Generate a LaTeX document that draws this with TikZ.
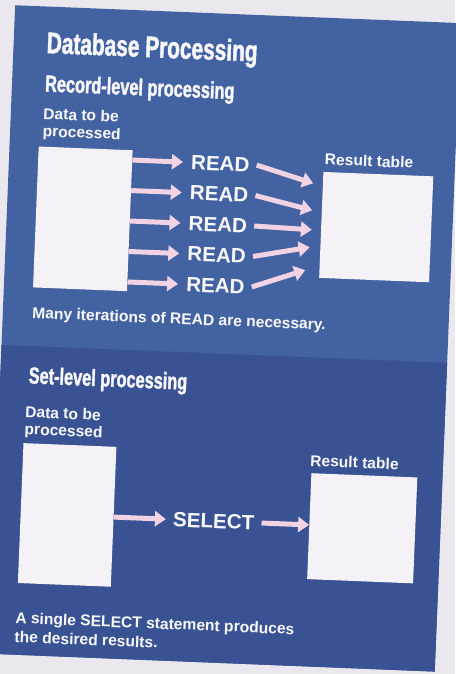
\documentclass[tikz,border=0pt]{standalone}
\usepackage{fontspec}
\setmainfont{Liberation Sans}
\newfontfamily\condfont[FakeStretch=0.70,FakeBold=1.5]{Liberation Sans Bold}
\newfontfamily\medfont{Liberation Sans Bold}
\usetikzlibrary{arrows.meta,calc}
\definecolor{bgpage}{HTML}{EAE8EE}
\definecolor{panelA}{HTML}{4262A2}
\definecolor{panelB}{HTML}{385293}
\definecolor{pinkarrow}{HTML}{F1D3E3}
\definecolor{boxwhite}{HTML}{F4F2F6}
\definecolor{txtwhite}{HTML}{F8F8FB}
\tikzset{
  heading/.style={font=\condfont\fontsize{29.8}{34}\selectfont, text=txtwhite, inner sep=0pt, anchor=base west},
  subhead/.style={font=\condfont\fontsize{23.3}{27}\selectfont, text=txtwhite, inner sep=0pt, anchor=base west},
  lbl/.style={font=\medfont\fontsize{15.6}{18}\selectfont, text=txtwhite, inner sep=0pt, anchor=base west},
  opname/.style={font=\medfont\fontsize{20.6}{24}\selectfont, text=txtwhite, inner sep=0pt, anchor=west},
  tablebox/.style={fill=boxwhite, draw=none, inner sep=0pt, anchor=north west},
  arr/.style={draw=pinkarrow, line width=5pt, -{Triangle[length=11pt,width=15pt]}},
}
\begin{document}
\begin{tikzpicture}[x=1pt,y=-1pt]
\useasboundingbox (0,0) rectangle (455,674);
\fill[bgpage] (0,0) rectangle (455,674);
\begin{scope}[rotate around={-2.3:(227,337)}, transform shape]
  % panel
  \fill[panelA] (2,14) rectangle (448,663);
  \fill[panelB] (2,354) rectangle (448,663);
  % upper section
  \node[heading] (title) at (35,60.5) {Database Processing};
  \node[subhead] (sub1) at (35,99) {Record-level processing};
  \node[lbl] (d1a) at (34.4,126.6) {Data to be};
  \node[lbl] (d1b) at (34.4,144) {processed};
  \node[tablebox, minimum width=94pt, minimum height=141pt] (box1) at (31,154) {};
  \node[lbl] (res1) at (317.5,161) {Result table};
  \node[tablebox, minimum width=110pt, minimum height=106pt] (box2) at (316.5,168) {};
  \node[opname] (r1) at (184,164) {READ};
  \node[opname] (r2) at (184,194.5) {READ};
  \node[opname] (r3) at (184,225) {READ};
  \node[opname] (r4) at (184,255.5) {READ};
  \node[opname] (r5) at (184,286) {READ};
  \coordinate (t1) at (307,180);
  \coordinate (t2) at (307,207);
  \coordinate (t3) at (307.5,226.5);
  \coordinate (t4) at (306,244);
  \coordinate (t5) at (302.5,267);
  \foreach \i in {1,...,5}{
    \draw[arr] ($(box1.north east)!(r\i.west)!(box1.south east)$) -- ($(r\i.west)!-8pt!(r\i.east)$);
    \draw[arr] ($(r\i.east)!-7pt!(r\i.west)$) -- (t\i);
  }
  \node[lbl] (cap1) at (31.4,326) {Many iterations of READ are necessary.};
  % lower section
  \node[subhead] (sub2) at (30.3,391.3) {Set-level processing};
  \node[lbl] (d2a) at (28.3,425.5) {Data to be};
  \node[lbl] (d2b) at (28.3,442.5) {processed};
  \node[tablebox, minimum width=93pt, minimum height=140pt] (box3) at (27.7,451) {};
  \node[lbl] (res2) at (315,462.6) {Result table};
  \node[tablebox, minimum width=106pt, minimum height=106pt] (box4) at (316.6,469.5) {};
  \node[opname] (sel) at (180.3,521.5) {SELECT};
  \draw[arr] ($(box3.north east)!(sel.west)!(box3.south east)$) -- ($(sel.west)!-7pt!(sel.east)$);
  \draw[arr] ($(sel.east)!-7pt!(sel.west)$) -- ($(box4.north west)!(sel.east)!(box4.south west)$);
  \node[lbl] (cap2a) at (26.7,631.5) {A single SELECT statement produces};
  \node[lbl] (cap2b) at (26.7,650.5) {the desired results.};
\end{scope}
\end{tikzpicture}
\end{document}
